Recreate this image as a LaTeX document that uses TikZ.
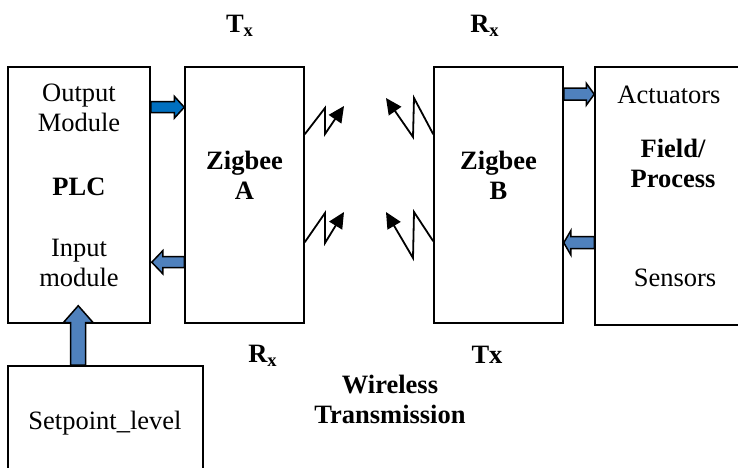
\documentclass[tikz,border=0pt]{standalone}
\usepackage{fontspec}
\setmainfont{Liberation Serif}
\usetikzlibrary{calc,arrows.meta}
\definecolor{bluedark}{HTML}{0070C0}
\definecolor{bluesteel}{HTML}{4F81BD}
\tikzset{
  box/.style={draw, line width=0.75bp, inner sep=0pt},
  txt/.style={font=\fontsize{13.25bp}{15bp}\selectfont, align=center, inner sep=0pt},
  btxt/.style={font=\fontsize{13.25bp}{15bp}\selectfont\bfseries, align=center, inner sep=0pt},
  blockline/.style={draw=black, line width=0.75bp, line join=miter},
  bolt/.style={line width=0.9bp, -{Triangle[length=8bp,width=7.5bp]}},
}
% #1 start, #2 tip, #3 shaft half width, #4 head half width, #5 head length, #6 fill
\newcommand\blockarrow[6]{%
  \path ($(#2)!#5!(#1)$) coordinate (hb);
  \draw[blockline, fill=#6] ($(#1)!#3!90:(#2)$) -- ($(hb)!#3!90:(#2)$) -- ($(hb)!#4!90:(#2)$) -- (#2)
    -- ($(hb)!#4!-90:(#2)$) -- ($(hb)!#3!-90:(#2)$) -- ($(#1)!#3!-90:(#2)$) -- cycle;
}
\begin{document}
\begin{tikzpicture}[x=0.5bp, y=-0.5bp]
\path[use as bounding box, clip] (0,0) rectangle (738,468);

% boxes
\node[box, minimum width=71bp, minimum height=128bp] (plc) at (79,195) {};
\node[box, minimum width=59.5bp, minimum height=128bp] (zigA) at (244.5,195) {};
\node[box, minimum width=64.5bp, minimum height=128bp] (zigB) at (498.5,195) {};
\node[box, minimum width=80bp, minimum height=129bp] (field) at (675,196) {};
\node[box, minimum width=97.5bp, minimum height=57bp] (sp) at (105.5,423) {};

% texts
\node[txt] (out) at (79,108) {Output\\Module};
\node[btxt] (plct) at (79,187) {PLC};
\node[txt] (inp) at (79,263) {Input\\module};
\node[btxt] (za) at (244.5,175) {Zigbee\\A};
\node[btxt] (zb) at (498.5,175) {Zigbee\\B};
\node[txt] (act) at (669,95) {Actuators};
\node[btxt] (fp) at (673,163) {Field/\\Process};
\node[txt] (sen) at (675,278) {Sensors};
\node[txt] (spt) at (105,423) {Setpoint\_level};
\node[btxt] (tx1) at (240,26) {T\textsubscript{x}};
\node[btxt] (rx1) at (485,26) {R\textsubscript{x}};
\node[btxt] (rx2) at (263,356) {R\textsubscript{x}};
\node[btxt] (tx2) at (487,355) {Tx};
\node[btxt] (wt) at (390,399) {Wireless\\Transmission};

% block arrows
\coordinate (o1) at ($(plc.north east)+(0,41)$);
\coordinate (o2) at ($(zigA.north west)+(0,41)$);
\blockarrow{o1}{o2}{2.75bp}{5.5bp}{5bp}{bluedark}
\coordinate (i1) at ($(zigA.north west)+(0,196)$);
\coordinate (i2) at ($(plc.north east)+(1,196)$);
\blockarrow{i1}{i2}{2.75bp}{5.75bp}{5.5bp}{bluesteel}
\coordinate (a1) at ($(zigB.north east)+(0,28)$);
\coordinate (a2) at ($(field.north west)+(0,28)$);
\blockarrow{a1}{a2}{3bp}{5.5bp}{4bp}{bluesteel}
\coordinate (s1) at ($(field.north west)+(0,176.5)$);
\coordinate (s2) at ($(zigB.north east)+(0,176.5)$);
\blockarrow{s1}{s2}{3bp}{6bp}{3.5bp}{bluesteel}
\coordinate (p1) at ($(sp.north west)+(71,0)$);
\coordinate (p2) at ($(plc.south west)+(71,-18)$);
\blockarrow{p1}{p2}{3.75bp}{7.5bp}{8.5bp}{bluesteel}

% wireless bolts
\coordinate (bl1) at ($(zigA.north east)+(0,68)$);
\coordinate (bl2) at (344,106);
\draw[bolt] (bl1) -- (325,108) -- (325,134) -- (bl2);
\coordinate (br1) at ($(zigB.north west)+(0,68)$);
\coordinate (br2) at (386,98);
\draw[bolt] (br1) -- (414,98) -- (413,137) -- (br2);
\coordinate (bl3) at ($(zigA.north east)+(0,176)$);
\coordinate (bl4) at (344,212);
\draw[bolt] (bl3) -- (325,213) -- (325,243) -- (bl4);
\coordinate (br3) at ($(zigB.north west)+(0,175)$);
\coordinate (br4) at (386,212);
\draw[bolt] (br3) -- (414,212) -- (413,258) -- (br4);
\end{tikzpicture}
\end{document}
